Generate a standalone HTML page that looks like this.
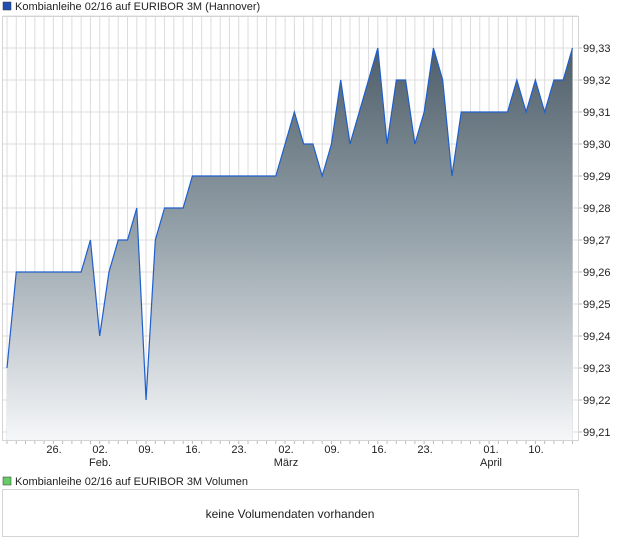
<!DOCTYPE html>
<html><head><meta charset="utf-8"><style>
body{margin:0;background:#fff;width:620px;height:546px;overflow:hidden;font-family:"Liberation Sans",sans-serif;}
</style></head><body>
<svg width="620" height="546" xmlns="http://www.w3.org/2000/svg" font-family="Liberation Sans, sans-serif">
<defs><linearGradient id="g" x1="0" y1="0" x2="0" y2="1" gradientUnits="userSpaceOnUse" x1a="0">
</linearGradient>
<linearGradient id="f" gradientUnits="userSpaceOnUse" x1="0" y1="48" x2="0" y2="441">
<stop offset="0" stop-color="#4e5e69"/><stop offset="0.5" stop-color="#9aa6ae"/><stop offset="1" stop-color="#f6f7f9"/></linearGradient></defs>
<rect x="3" y="2" width="8" height="8" fill="#1f4fb0" stroke="#333" stroke-width="0.5"/>
<text x="15" y="10" font-size="11" fill="#222">Kombianleihe 02/16 auf EURIBOR 3M (Hannover)</text>
<g id="grid" stroke="#dcdcdc" stroke-width="1"></g>
<rect x="2.5" y="16.5" width="576" height="424" fill="none" stroke="#d4d4d4"/>
<path id="area" fill="url(#f)"/>
<path id="line" fill="none" stroke="#1f5fcc" stroke-width="1.2"/>
<g id="ylab" font-size="11" fill="#222"></g>
<g id="xlab" font-size="11" fill="#222" text-anchor="middle">
<text x="54" y="453">26.</text>
<text x="100" y="453">02.</text><text x="100" y="466">Feb.</text>
<text x="146" y="453">09.</text>
<text x="193" y="453">16.</text>
<text x="239" y="453">23.</text>
<text x="286" y="453">02.</text><text x="286" y="466">März</text>
<text x="332" y="453">09.</text>
<text x="379" y="453">16.</text>
<text x="425" y="453">23.</text>
<text x="491" y="453">01.</text><text x="491" y="466">April</text>
<text x="536" y="453">10.</text>
</g>
<rect x="3" y="477" width="8" height="8" fill="#66cc66" stroke="#333" stroke-width="0.5"/>
<text x="15" y="485" font-size="11" fill="#222">Kombianleihe 02/16 auf EURIBOR 3M Volumen</text>
<rect x="2.5" y="489.5" width="576" height="47" fill="#fff" stroke="#d4d4d4"/>
<text x="290" y="518" font-size="12" fill="#222" text-anchor="middle">keine Volumendaten vorhanden</text>
</svg>
<script>
const v=[23,26,26,26,26,26,26,26,26,27,24,26,27,27,28,22,27,28,28,28,29,29,29,29,29,29,29,29,29,29,30,31,30,30,29,30,32,30,31,32,33,30,32,32,30,31,33,32,29,31,31,31,31,31,31,32,31,32,31,32,32,33];
const X=i=>7+9.27*i, Y=a=>48+(33-a)*32;
let g=document.getElementById('grid'),s='';
for(let i=0;i<62;i++){s+=`<line x1="${X(i)}" y1="17" x2="${X(i)}" y2="440"/>`;s+=`<line x1="${X(i)}" y1="441" x2="${X(i)}" y2="444" stroke="#bbb"/>`;}
let yl='';
for(let a=21;a<=34;a++){let y=Y(a);s+=`<line x1="3" y1="${y}" x2="578" y2="${y}"/>`;if(a<=33){s+=`<line x1="578" y1="${y}" x2="582" y2="${y}" stroke="#bbb"/>`;yl+=`<text x="583" y="${y+4}">99,${a}</text>`;}}
g.innerHTML=s;document.getElementById('ylab').innerHTML=yl;
let p=v.map((a,i)=>`${i?'L':'M'}${X(i)},${Y(a)}`).join('');
document.getElementById('line').setAttribute('d',p);
document.getElementById('area').setAttribute('d',p+`L${X(61)},440L${X(0)},440Z`);
</script>
</body></html>
